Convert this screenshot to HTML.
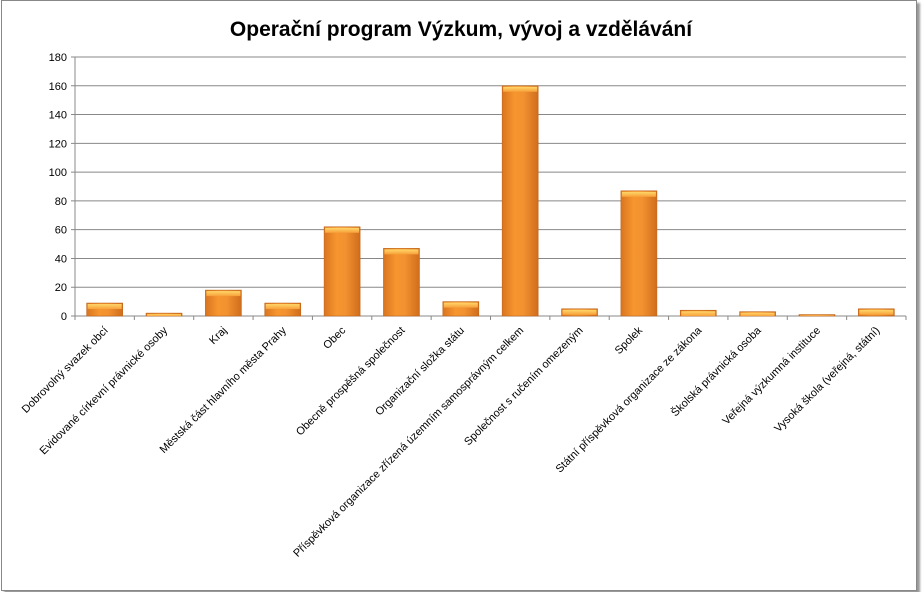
<!DOCTYPE html>
<html><head><meta charset="utf-8"><style>
body{margin:0;background:#fff;width:923px;height:592px;overflow:hidden;font-family:"Liberation Sans","DejaVu Sans",sans-serif}
#frame{position:absolute;left:1px;top:0;width:914px;height:589px;border:1px solid #888;box-shadow:3px 3px 2px #999}
</style></head><body>
<div id="frame"></div>
<svg id="chart" width="923" height="592" style="position:absolute;left:0;top:0">
<defs>
<linearGradient id="bg" x1="0" x2="1" y1="0" y2="0">
<stop offset="0" stop-color="#d9741f"/><stop offset="0.35" stop-color="#f7962f"/><stop offset="0.6" stop-color="#f19130"/><stop offset="1" stop-color="#d06d1c"/>
</linearGradient>
<linearGradient id="cap" x1="0" x2="0" y1="0" y2="1">
<stop offset="0" stop-color="#ffd76a"/><stop offset="1" stop-color="#f7a03a"/>
</linearGradient>
</defs>
<text x="461" y="36" text-anchor="middle" font-size="21" font-weight="bold" fill="#000">Operační program Výzkum, vývoj a vzdělávání</text>
<g id="grid"></g><g id="bars"></g><g id="labels"></g>
</svg>
<script>
const categories=["Dobrovolný svazek obcí","Evidované církevní právnické osoby","Kraj","Městská část hlavního města Prahy","Obec","Obecně prospěšná společnost","Organizační složka státu","Příspěvková organizace zřízená územním samosprávným celkem","Společnost s ručením omezeným","Spolek","Státní příspěvková organizace ze zákona","Školská právnická osoba","Veřejná výzkumná instituce","Vysoká škola (veřejná, státní)"];
const values=[9,2,18,9,62,47,10,160,5,87,4,3,1,5];
const yTicks=[0,20,40,60,80,100,120,140,160,180];
const X0=75,X1=906,Y0=316,Y1=57,YMAX=180;
const ns="http://www.w3.org/2000/svg";
const y=v=>Y0-(v/YMAX)*(Y0-Y1);
const bw=(X1-X0)/categories.length;
const xc=i=>X0+bw*(i+0.5);
const g=document.getElementById('grid'),b=document.getElementById('bars'),l=document.getElementById('labels');
function mk(t,a,p){const e=document.createElementNS(ns,t);for(const k in a)e.setAttribute(k,a[k]);p.appendChild(e);return e;}
yTicks.forEach(t=>{
 const ln=mk('line',{x1:X0-4,x2:X1,y1:y(t),y2:y(t),stroke:'#888','stroke-width':1},g);
 
 
 const tx=mk('text',{x:X0-8,y:y(t)+4,'text-anchor':'end','font-size':11,fill:'#000'},g);
 tx.textContent=t;
 
 
});
mk('line',{x1:X0,x2:X0,y1:Y1,y2:Y0,stroke:'#888'},g);
for(let i=0;i<=categories.length;i++){mk('line',{x1:X0+bw*i,x2:X0+bw*i,y1:Y0,y2:Y0+4,stroke:'#888'},g);}
values.forEach((v,i)=>{
 const w=36,x=xc(i)-w/2,top=y(v),h=Math.max(Y0-top,1);
 const r=mk('rect',{x:x,y:top,width:w,height:h,fill:'url(#bg)',stroke:'#c0641a','stroke-width':0.6},b);
 
 
 mk('rect',{x:x+1,y:top+1,width:w-2,height:Math.min(5,h-1),fill:'url(#cap)'},b);
 const t=mk('text',{x:xc(i)+4,y:Y0+15,'text-anchor':'end','font-size':11,fill:'#000',transform:`rotate(-45 ${xc(i)+4} ${Y0+15})`},l);
 t.textContent=categories[i];
 
 
});
</script>
</body></html>
